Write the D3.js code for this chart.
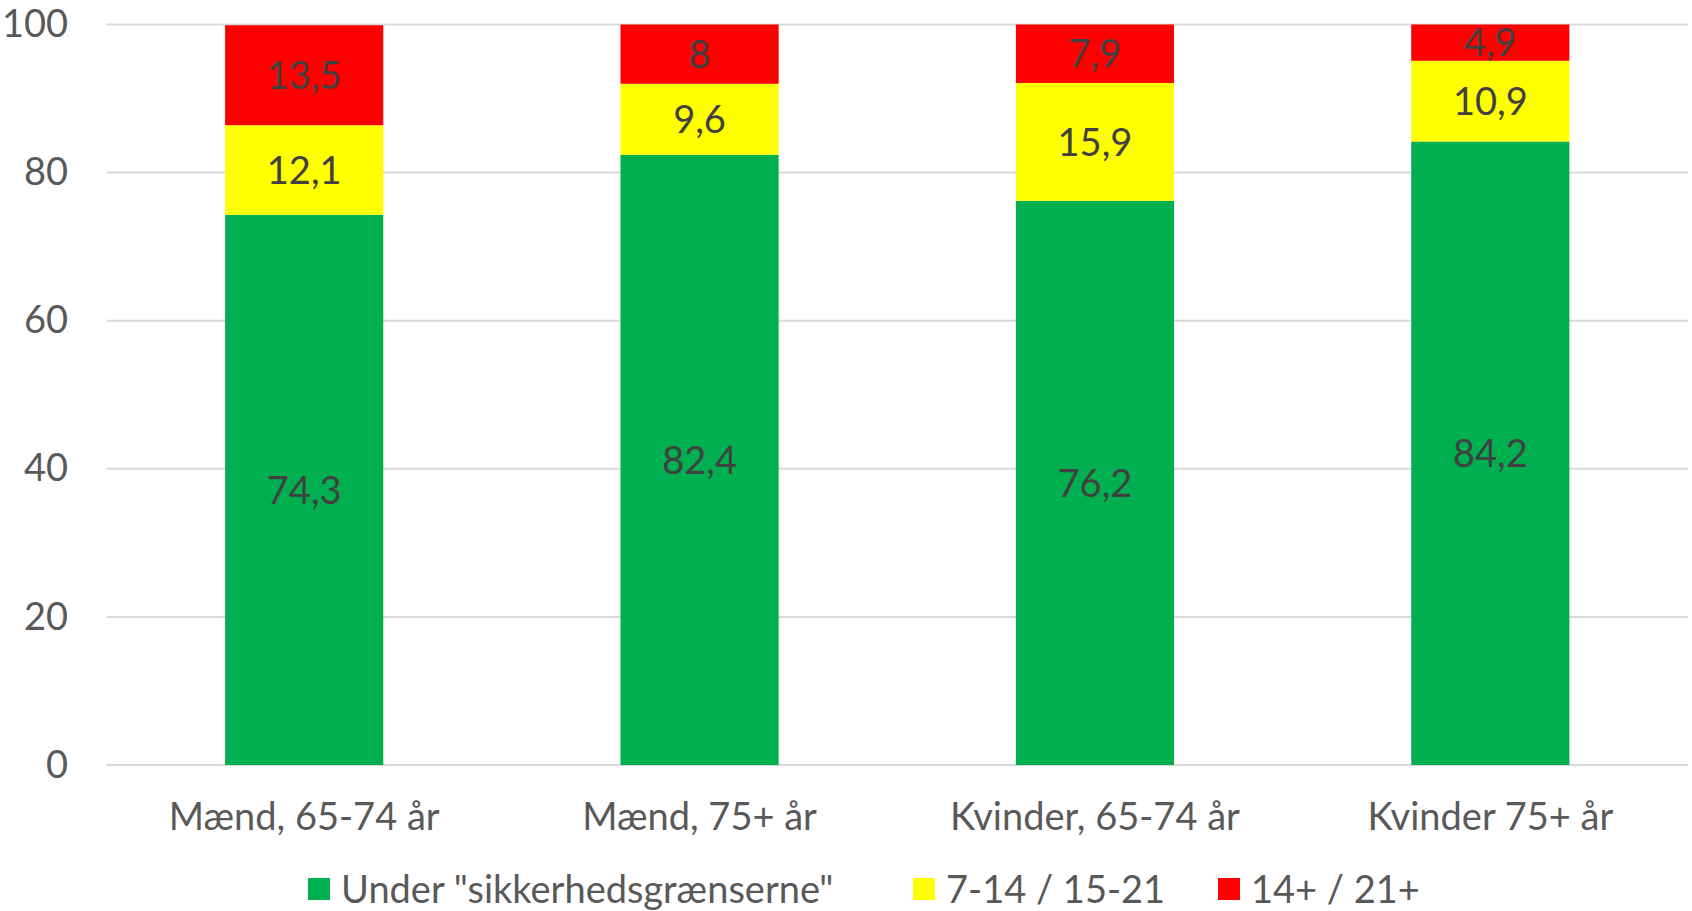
<!DOCTYPE html>
<html>
<head>
  <meta charset="utf-8">
  <script src="https://d3js.org/d3.v7.min.js"></script>
  <style>
    body { margin: 0; background: #fff; }
    text { font-family: Lato, "Open Sans", sans-serif; }
  </style>
</head>
<body>
  <svg id="chart"></svg>
  <script>
    // data
    let categories = ["Mænd, 65-74 år", "Mænd, 75+ år", "Kvinder, 65-74 år", "Kvinder 75+ år"];
    let seriesNames = ["Under \"sikkerhedsgrænserne\"", "7-14 / 15-21", "14+ / 21+"];
    let under = [74.3, 82.4, 76.2, 84.2];
    let middle = [12.1, 9.6, 15.9, 10.9];
    let over = [13.5, 8, 7.9, 4.9];
    let labels = [["74,3", "12,1", "13,5"], ["82,4", "9,6", "8"], ["76,2", "15,9", "7,9"], ["84,2", "10,9", "4,9"]];
    let yTicks = [0, 20, 40, 60, 80, 100];
    let colors = ["#00B050", "#FFFF00", "#FF0000"];

    let width = 1692, height = 911;
    let svg = d3.select("#chart").attr("width", width).attr("height", height);

    let x = d3.scaleBand().domain(categories).range([106.5, 1688]).paddingInner(0.6).paddingOuter(0.3);
    let y = d3.scaleLinear().domain([0, 100]).range([765, 24.5]);

    // gridlines
    svg.append("g")
      .selectAll("line")
      .data(yTicks)
      .enter()
      .append("line")
      .attr("x1", 106.5)
      .attr("x2", 1688)
      .attr("y1", d => y(d))
      .attr("y2", d => y(d))
      .attr("stroke", "#d9d9d9")
      .attr("stroke-width", 2);

    // y axis labels
    let yAxis = svg.append("g")
      .attr("transform", "translate(80,0)")
      .call(d3.axisLeft(y).tickValues(yTicks).tickSize(0).tickPadding(12));
    yAxis.select(".domain").remove();
    yAxis.selectAll("text")
      .attr("font-size", 38)
      .attr("fill", "#595959")
      .style("font-family", "Lato, sans-serif");

    // stack the series
    let rows = categories.map((c, i) => ({ cat: c, i: i, s0: under[i], s1: middle[i], s2: over[i] }));
    let stack = d3.stack().keys(["s0", "s1", "s2"])(rows);

    let layers = svg.selectAll("g.layer")
      .data(stack)
      .enter()
      .append("g")
      .attr("class", "layer")
      .attr("fill", (d, i) => colors[i]);

    layers.selectAll("rect")
      .data(d => d)
      .enter()
      .append("rect")
      .attr("x", d => x(d.data.cat))
      .attr("width", x.bandwidth())
      .attr("y", d => y(d[1]))
      .attr("height", d => y(d[0]) - y(d[1]));

    // data labels
    stack.forEach((layer, k) => {
      svg.append("g")
        .selectAll("text")
        .data(layer)
        .enter()
        .append("text")
        .attr("x", d => x(d.data.cat) + x.bandwidth() / 2)
        .attr("y", d => (y(d[0]) + y(d[1])) / 2)
        .attr("dy", "0.36em")
        .attr("text-anchor", "middle")
        .attr("font-size", 38)
        .attr("fill", "#404040")
        .text(d => labels[d.data.i][k]);
    });

    // category labels
    svg.append("g")
      .selectAll("text")
      .data(categories)
      .enter()
      .append("text")
      .attr("x", d => x(d) + x.bandwidth() / 2)
      .attr("y", 830)
      .attr("text-anchor", "middle")
      .attr("font-size", 38)
      .attr("fill", "#595959")
      .text(d => d);

    // legend
    let legendX = [308, 913, 1218];
    let legend = svg.append("g")
      .selectAll("g")
      .data(seriesNames)
      .enter()
      .append("g")
      .attr("transform", (d, i) => `translate(${legendX[i]},878)`);
    legend.append("rect")
      .attr("width", 22)
      .attr("height", 22)
      .attr("fill", (d, i) => colors[i]);
    legend.append("text")
      .attr("x", 33)
      .attr("y", 25)
      .attr("font-size", 38)
      .attr("fill", "#595959")
      .text(d => d);
  </script>
</body>
</html>
